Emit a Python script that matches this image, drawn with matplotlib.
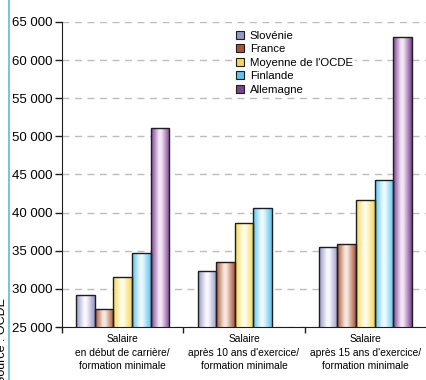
import numpy as np
import matplotlib
matplotlib.use("Agg")
import matplotlib.pyplot as plt
from matplotlib.colors import LinearSegmentedColormap
from matplotlib.ticker import FuncFormatter, FixedLocator

# --- data -------------------------------------------------------------
categories = [
    "Salaire\nen début de carrière/\nformation minimale",
    "Salaire\naprès 10 ans d'exercice/\nformation minimale",
    "Salaire\naprès 15 ans d'exercice/\nformation minimale",
]
countries = ["Slovénie", "France", "Moyenne de l'OCDE", "Finlande", "Allemagne"]
slovenie = [29200, 32350, 35450]
france = [27350, 33550, 35850]
ocde = [31600, 38650, 41650]
finlande = [34700, 40550, 44300]
allemagne = [51100, np.nan, 63000]
series = [slovenie, france, ocde, finlande, allemagne]

yticks = [25000, 30000, 35000, 40000, 45000, 50000, 55000, 60000, 65000]

# dark / light tones of each bar gradient
dark_tones = ["#9696c8", "#a5553c", "#f5d65a", "#5fc3eb", "#7d4191"]
light_tones = ["#f7f7fc", "#f7e6dc", "#fffce6", "#ecfaff", "#f3e6f5"]

plt.rcParams["font.family"] = ["Liberation Sans", "DejaVu Sans"]
plt.rcParams["font.size"] = 9

fig = plt.figure(figsize=(4.26, 3.80), dpi=100)
ax = fig.add_axes([62 / 426, 1 - 327 / 380, 1 - 62 / 426, (327 - 22) / 380])

x = np.arange(len(categories))
w = 0.153
offsets = (np.arange(len(countries)) - 2) * w


def grad_cmap(dark, light):
    return LinearSegmentedColormap.from_list(
        "g", [(0.0, dark), (0.42, light), (0.55, light), (1.0, dark)]
    )


grad = np.linspace(0, 1, 64).reshape(1, -1)
for i, (name, vals) in enumerate(zip(countries, series)):
    bars = ax.bar(x + offsets[i], vals, width=w, bottom=0, align="center",
                  facecolor="none", edgecolor="#1e1e1e", linewidth=1.0, zorder=3)
    cmap = grad_cmap(dark_tones[i], light_tones[i])
    for b, v in zip(bars, vals):
        if np.isnan(v):
            continue
        x0 = b.get_x()
        img = ax.imshow(grad, cmap=cmap, aspect="auto", interpolation="bilinear",
                        extent=[x0, x0 + b.get_width(), 25000, v], zorder=2)
        img.set_clip_path(b)

ax.set_xlim(-0.5, 2.5)
ax.set_ylim(25000, 65000)

# axes styling
for s in ["top", "right"]:
    ax.spines[s].set_visible(False)
ax.spines["left"].set_color("#1e1e1e")
ax.spines["bottom"].set_color("#1e1e1e")
ax.set_yticks(yticks)
ax.yaxis.set_major_formatter(FuncFormatter(lambda v, p: f"{int(v):,}".replace(",", " ")))
ax.tick_params(axis="y", length=5, width=1, color="#1e1e1e", labelsize=9.5, pad=2)
ax.set_xticks(x)
ax.set_xticklabels(categories, fontsize=7.4, linespacing=1.45)
ax.tick_params(axis="x", which="major", length=0, pad=5)
ax.xaxis.set_minor_locator(FixedLocator([-0.5, 0.5, 1.5]))
ax.tick_params(axis="x", which="minor", length=4, width=1, color="#1e1e1e")
ax.grid(axis="y", color="#bdbdbd", linestyle=(0, (5, 4)), linewidth=1.0, zorder=1)
ax.set_axisbelow(True)

# legend
handles = [plt.Rectangle((0, 0), 1, 1, facecolor=dark_tones[i], edgecolor="#1e1e1e",
                         linewidth=0.8) for i in range(len(countries))]
leg = ax.legend(handles, countries, loc="upper left", bbox_to_anchor=(0.455, 0.997),
                frameon=True, fontsize=8.2, handlelength=0.7, handleheight=0.7,
                handletextpad=0.55, labelspacing=0.3, borderpad=0.2)
leg.get_frame().set_edgecolor("none")
leg.get_frame().set_facecolor("white")
leg.set_zorder(5)

# side decoration: source note and rule
fig.add_artist(plt.Line2D([9 / 426, 9 / 426], [0, 1], color="#5bbfc8", linewidth=1.2))
fig.text(2 / 426, 1 - 298 / 380, "Source : OCDE", rotation=90, ha="center", va="top",
         fontsize=9)

fig.savefig("out.png", dpi=100)
